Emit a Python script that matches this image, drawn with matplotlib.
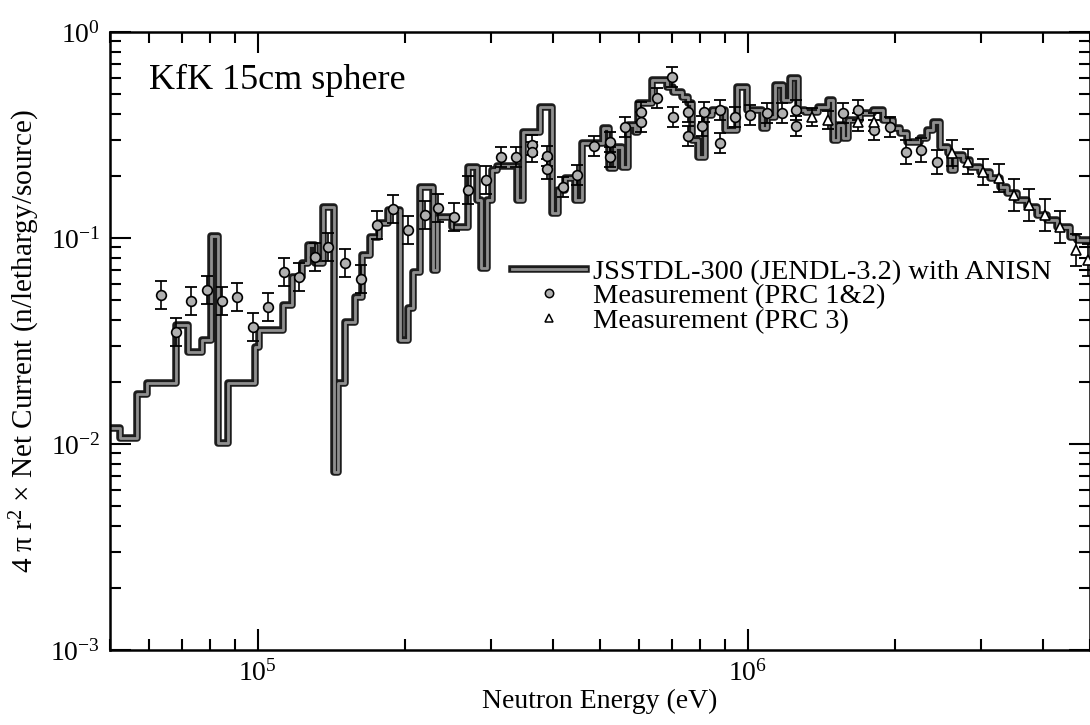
import matplotlib
matplotlib.use('Agg')
import numpy as np
import matplotlib.pyplot as plt
import matplotlib.patheffects as pe
from matplotlib.lines import Line2D
from matplotlib.ticker import NullFormatter

# calculated spectrum (JSSTDL-300 / ANISN): lower bin edges in keV and bin values
calc_edges_kev = [50.0, 52.4, 56.8, 59.5, 68.2, 72.1, 77.1, 80.4, 83.1, 87.0,
                  98.8, 100.7, 112.7, 117.6, 123.3, 126.8, 131.0, 136.1, 143.3, 146.0,
                  150.9, 158.1, 163.4, 169.7, 177.0, 184.6, 195.4, 202.9, 207.7, 214.6,
                  228.2, 232.5, 249.3, 268.9, 280.5, 285.8, 294.0, 301.0, 308.1, 338.5,
                  348.2, 377.2, 399.0, 410.5, 424.2, 444.6, 459.5, 507.1, 521.6, 536.5,
                  554.4, 570.3, 589.4, 597.7, 638.4, 684.9, 704.6, 735.0, 756.1, 770.4,
                  792.4, 818.9, 846.2, 899.4, 951.5, 997.6, 1071, 1096, 1138, 1181,
                  1221, 1267, 1310, 1392, 1459, 1494, 1530, 1567, 1603, 1696,
                  1803, 1890, 1981, 2047, 2115, 2250, 2324, 2390, 2470, 2564,
                  2590, 2652, 2752, 2845, 2981, 3125, 3276, 3385, 3548, 3718,
                  3897, 4084, 4282, 4551, 4703]
calc_values = [0.0120, 0.0107, 0.0175, 0.0198, 0.0378, 0.0280, 0.0320, 0.102, 0.0101, 0.0198,
               0.0296, 0.0357, 0.0473, 0.0647, 0.0757, 0.0925, 0.0757, 0.141, 0.0073, 0.0198,
               0.0391, 0.0517, 0.0827, 0.101, 0.118, 0.137, 0.0320, 0.0457, 0.0683, 0.177,
               0.070, 0.127, 0.113, 0.220, 0.153, 0.0716, 0.153, 0.214, 0.224, 0.153,
               0.327, 0.433, 0.132, 0.171, 0.196, 0.153, 0.289, 0.342, 0.219, 0.277,
               0.221, 0.353, 0.327, 0.452, 0.585, 0.541, 0.511, 0.483, 0.452, 0.299,
               0.247, 0.395, 0.418, 0.335, 0.541, 0.418, 0.342, 0.386, 0.553, 0.468,
               0.598, 0.418, 0.409, 0.432, 0.468, 0.299, 0.353, 0.306, 0.374, 0.405,
               0.418, 0.374, 0.342, 0.323, 0.293, 0.306, 0.335, 0.366, 0.277, 0.259,
               0.214, 0.253, 0.239, 0.221, 0.209, 0.196, 0.177, 0.165, 0.153, 0.141,
               0.129, 0.122, 0.113, 0.101, 0.098]
calc_end_kev = 5000.0

# measurement PRC 1&2 (circles)
prc12_kev = [63.6, 68.2, 73.2, 78.9, 84.6, 90.8, 97.9, 105.1, 113.3, 121.6,
             131.0, 139.3, 150.9, 162.7, 175.3, 189.0, 202.9, 219.8, 233.6, 251.8,
             268.9, 292.6, 314.1, 337.0, 363.3, 363.3, 389.8, 389.8, 420.2, 448.9,
             486.1, 524.1, 524.1, 562.4, 606.3, 606.3, 653.6, 701.3, 704.6, 756.1,
             756.1, 806.0, 815.1, 878.8, 878.8, 942.8, 1012, 1096, 1176, 1256,
             1256, 1567, 1681, 1812, 1954, 2106, 2260, 2437]
prc12_val = [0.0529, 0.0350, 0.0494, 0.0559, 0.0494, 0.0517, 0.0370, 0.0462, 0.0684, 0.0647,
             0.0809, 0.0904, 0.0756, 0.0632, 0.1156, 0.1383, 0.1093, 0.1294, 0.1399, 0.1264,
             0.171, 0.1912, 0.2473, 0.2473, 0.2828, 0.2615, 0.250, 0.2163, 0.1769, 0.2022,
             0.2797, 0.2924, 0.2473, 0.3457, 0.409, 0.3658, 0.478, 0.6046, 0.3867, 0.409,
             0.3128, 0.3498, 0.409, 0.2892, 0.418, 0.3867, 0.3955, 0.4044, 0.4044, 0.3498,
             0.418, 0.4044, 0.418, 0.3344, 0.346, 0.2615, 0.2675, 0.2339]
prc12_err = [0.17] * 22 + [0.12] * 33 + [0.14] * 3

# measurement PRC 3 (triangles)
prc3_kev = [1354, 1459, 1681, 1812, 2614, 2818, 3023, 3261, 3499, 3754,
            4047, 4343, 4681, 4953]
prc3_val = [0.3867, 0.374, 0.3658, 0.3658, 0.2586, 0.2339, 0.2091, 0.1955, 0.1617, 0.1446,
            0.1294, 0.1131, 0.0874, 0.0782]
prc3_err = [0.11, 0.11, 0.11, 0.11, 0.15, 0.15, 0.16, 0.17, 0.19, 0.19,
            0.19, 0.19, 0.19, 0.19]

plt.rcParams['font.family'] = 'Liberation Serif'
plt.rcParams['mathtext.fontset'] = 'custom'
plt.rcParams['mathtext.rm'] = 'Liberation Serif'
plt.rcParams['mathtext.it'] = 'Liberation Serif:italic'

fig = plt.figure(figsize=(10.9, 7.25), dpi=100)
ax = fig.add_axes([110 / 1090, 75 / 725, 980 / 1090, 618 / 725])

line_fx = [pe.Stroke(linewidth=5.4, foreground='#1c1c1c'), pe.Normal()]

sx = np.array(calc_edges_kev + [calc_end_kev]) * 1e3
sy = np.array(calc_values + [calc_values[-1]])
ax.step(sx, sy, where='post', color='#909090', lw=2.0, path_effects=line_fx, zorder=2)


def draw_points(kev, val, err, marker, face):
    x = np.array(kev) * 1e3
    y = np.array(val)
    e = np.array(err)
    lo = y - y / (1 + e)
    hi = y * e
    ax.errorbar(x, y, yerr=[lo, hi], fmt='none', ecolor='black', elinewidth=1.2,
                capsize=4.5, capthick=1.3, zorder=3)
    ax.plot(x, y, linestyle='none', marker=marker, ms=7, mfc=face, mec='black',
            mew=1.2, zorder=4)


draw_points(prc12_kev, prc12_val, prc12_err, 'o', '#b0b0b0')
draw_points(prc3_kev, prc3_val, prc3_err, '^', 'white')

ax.set_xscale('log')
ax.set_yscale('log')
ax.set_xlim(5e4, 5e6)
ax.set_ylim(1e-3, 1)
ax.xaxis.set_minor_formatter(NullFormatter())
ax.yaxis.set_minor_formatter(NullFormatter())

ax.tick_params(which='both', direction='in', top=True, right=True, width=1.5,
               labelsize=20)
ax.tick_params(which='major', length=15, pad=7)
ax.tick_params(which='minor', length=8)
for s in ax.spines.values():
    s.set_linewidth(1.8)

ax.set_xlabel('Neutron Energy (eV)', fontsize=20, labelpad=2)
ax.set_ylabel('4 π r$^2$ × Net Current (n/lethargy/source)', fontsize=21, labelpad=6)

ax.text(0.04, 0.922, 'KfK 15cm sphere', transform=ax.transAxes, fontsize=26,
        va='center', ha='left')

handles = [
    Line2D([], [], color='#909090', lw=2.0, path_effects=line_fx),
    Line2D([], [], linestyle='none', marker='o', ms=6, mfc='#b0b0b0', mec='black', mew=1.1),
    Line2D([], [], linestyle='none', marker='^', ms=6, mfc='white', mec='black', mew=1.1),
]
labels = ['JSSTDL-300 (JENDL-3.2) with ANISN', 'Measurement (PRC 1&2)', 'Measurement (PRC 3)']
ax.legend(handles, labels, loc='upper left', bbox_to_anchor=(0.39, 0.665), frameon=False,
          fontsize=20.5, handlelength=2.6, handletextpad=0.25, labelspacing=-0.05,
          borderpad=0.2)

fig.savefig('out.png', dpi=100)
